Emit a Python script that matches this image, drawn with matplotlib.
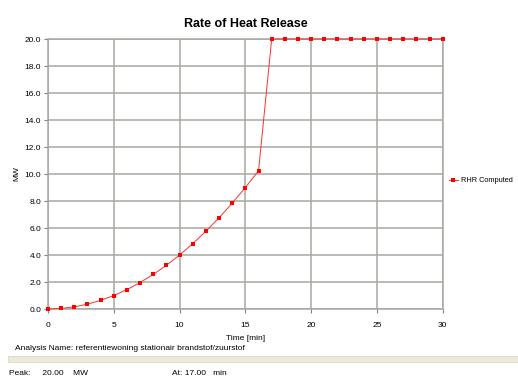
import numpy as np
import matplotlib
matplotlib.use('Agg')
import matplotlib.pyplot as plt

plt.rcParams['font.family'] = ['Liberation Sans', 'DejaVu Sans']

# data
time_min = [0, 1, 2, 3, 4, 5, 6, 7, 8, 9, 10, 11, 12, 13, 14, 15, 16, 17, 18, 19, 20,
            21, 22, 23, 24, 25, 26, 27, 28, 29, 30]
rhr_mw = [0.0, 0.04, 0.16, 0.36, 0.64, 1.0, 1.44, 1.96, 2.56, 3.24, 4.0, 4.84, 5.76, 6.76,
          7.84, 9.0, 10.24, 20.0, 20.0, 20.0, 20.0, 20.0, 20.0, 20.0, 20.0, 20.0, 20.0,
          20.0, 20.0, 20.0, 20.0]
x_ticks = [0, 5, 10, 15, 20, 25, 30]
y_ticks = [0, 2, 4, 6, 8, 10, 12, 14, 16, 18, 20]

fig = plt.figure(figsize=(5.18, 3.78), dpi=100)
ax = fig.add_axes([0.0927, 0.1825, 0.762, 0.7143])

ax.plot(time_min, rhr_mw, color='#ff3030', lw=0.7, marker='s', ms=3.0,
        markerfacecolor='#ff0000', markeredgewidth=0, label='RHR Computed',
        clip_on=False, zorder=3)

ax.set_xlim(0, 30)
ax.set_ylim(0, 20)
ax.set_xticks(x_ticks)
ax.set_yticks(y_ticks)
ax.set_yticklabels(['%.1f' % v for v in y_ticks])
ax.grid(True, color='#a8a8a0', lw=1.1)
ax.set_axisbelow(True)
for s in ax.spines.values():
    s.set_color('#a8a8a0')
    s.set_linewidth(1.1)
ax.tick_params(axis='x', pad=6)
ax.tick_params(labelsize=6, colors='#808080', length=3, width=0.8, labelcolor='#000000')
ax.tick_params(axis='y', pad=2)

ax.set_title('Rate of Heat Release', fontsize=9, fontweight='bold', pad=9)
ax.set_xlabel('Time [min]', fontsize=6, labelpad=5)
ax.set_ylabel('MW', fontsize=6, labelpad=3)

ax.legend(loc='center left', bbox_to_anchor=(1.008, 0.475), frameon=False, fontsize=5.3,
          handlelength=1.2, handletextpad=0.4, markerscale=0.9, borderaxespad=0)

fig.text(0.029, 0.079, 'Analysis Name: referentiewoning stationair brandstof/zuurstof',
         fontsize=6, va='center')
# separator bar
fig.add_artist(plt.Rectangle((0.016, 0.043), 0.984, 0.014, transform=fig.transFigure,
                             facecolor='#ece9d8', edgecolor='#d8d4c4', lw=0.5))
fig.text(0.017, 0.013, 'Peak:     20.00    MW', fontsize=6, va='center')
fig.text(0.333, 0.013, 'At: 17.00   min', fontsize=6, va='center')

fig.savefig('out.png', dpi=100)
